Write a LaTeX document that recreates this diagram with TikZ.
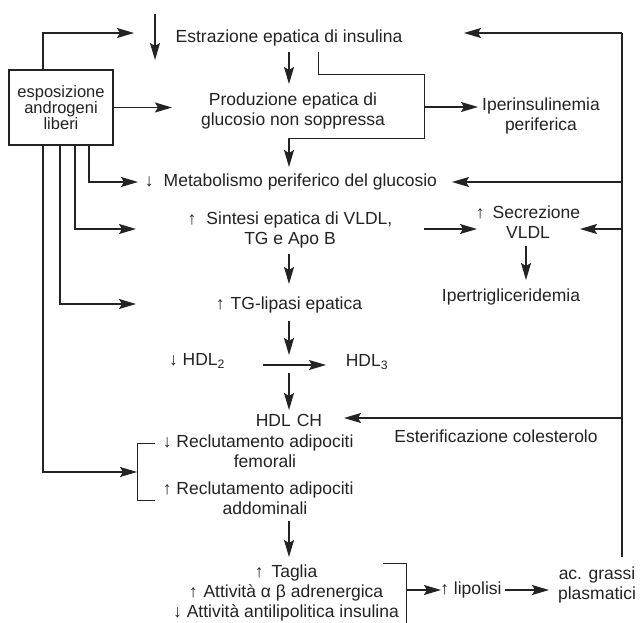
\documentclass[tikz,border=0pt]{standalone}
\usepackage{fontspec}
\setmainfont{Liberation Sans}
\usetikzlibrary{arrows.meta}
\definecolor{inkc}{RGB}{35,35,35}
\begin{document}
\begin{tikzpicture}[x=1pt,y=-1pt,
  ln/.style={draw=inkc, line width=1.4pt},
  thinln/.style={draw=inkc, line width=0.9pt},
  arr/.style={ln, -{Stealth[length=17pt,width=10pt,inset=3pt]}},
  txt/.style={font=\fontsize{17.5}{20}\selectfont, text=inkc, inner sep=0pt, align=center},
  boxtxt/.style={font=\fontsize{16.5}{14.5}\selectfont, text=inkc, align=center},
  ]
\useasboundingbox (0,0) rectangle (640,623);
\fill[white] (0,0) rectangle (640,623);

% source box
\node[boxtxt, draw=inkc, line width=1.3pt, minimum width=104pt, minimum height=75pt, inner sep=0pt] (box) at (61,107.5) {esposizione\\androgeni\\liberi};

% text nodes
\node[txt] (estr) at (289,38) {Estrazione epatica di insulina};
\node[txt] (prod) at (293,111) {Produzione epatica di\\glucosio non soppressa};
\node[txt] (iper) at (541,116) {Iperinsulinemia\\periferica};
\node[txt] (meta) at (291,182) {↓\hspace{10pt}Metabolismo periferico del glucosio};
\node[txt] (sint) at (290,230) {↑\hspace{10pt}Sintesi epatica di VLDL,\\TG e Apo B};
\node[txt] (secr) at (528,222) {↑\hspace{8pt}Secrezione\\VLDL};
\node[txt] (ipertg) at (511,297) {Ipertrigliceridemia};
\node[txt] (tgl) at (289,305) {↑\hspace{6pt}TG-lipasi epatica};
\node[txt] (hdl2) at (197,361) {↓ HDL\textsubscript{2}};
\node[txt] (hdl3) at (367,362) {HDL\textsubscript{3}};
\node[txt] (hdlch) at (289,420) {HDL\hspace{6pt}CH};
\node[txt] (ester) at (496,436) {Esterificazione colesterolo};
\node[txt] (femo) at (265,451) {\llap{↓ }Reclutamento adipociti\\femorali};
\node[txt] (addo) at (265,498) {\llap{↑ }Reclutamento adipociti\\addominali};
\node[txt] (tagl) at (286,593) {↑\hspace{8pt}Taglia\\↑\hspace{6pt}Attività α β adrenergica\\↓ Attività antilipolitica insulina};
\node[txt] (lipo) at (471,590) {↑ lipolisi};
\node[txt] (acg) at (597,585) {ac. grassi\\plasmatici};

% named free ends
\coordinate (tEstr) at (134,33);
\coordinate (tMeta) at (138,182);
\coordinate (tSint) at (136,229);
\coordinate (tTgl) at (136,304);
\coordinate (brk) at (137,472);
\coordinate (rTop) at (622,33);
\coordinate (rBot) at (622,557);

% arrows from the box
\draw[arr] ([xshift=-18pt]box.north) |- (tEstr);
\draw[arr] (box.east) -- (172,107.5);
\draw[arr] ([xshift=28pt]box.south) |- (tMeta);
\draw[arr] ([xshift=14pt]box.south) |- (tSint);
\draw[arr] ([xshift=-1pt]box.south) |- (tTgl);
\draw[arr] ([xshift=-18pt]box.south) |- (brk);

% decrease arrow before Estrazione
\draw[arr] (155,14) -- (155,60);

% central column
\draw[arr] (289,52) -- (289,84);
\draw[thinln] (318,52) |- (424,74) |- (289,138);
\draw[arr] (289,138) -- (289,167);
\draw[arr] (424,107) -- (478,107);

% right feedback line
\draw[ln] (rTop) -- (rBot);
\draw[arr] (rTop) -- (464,33);
\draw[arr] (622,182) -- (452,182);
\draw[arr] (622,229) -- (580,229);
\draw[arr] (622,418) -- (344,418);

% lipid branch
\draw[arr] (424,229) -- (477,229);
\draw[arr] (526,246) -- (526,280);
\draw[arr] (289,254) -- (289,284);
\draw[arr] (289,321) -- (289,355);
\draw[arr, line width=1.1pt] (263,365) -- (326,365);
\draw[arr] (289,373) -- (289,410);

% adipocyte bracket
\draw[thinln] (155,443) -- (137,443) -- (137,500) -- (155,500);
\draw[arr] (289,521) -- (289,557);

% bottom bracket and lipolysis
\draw[thinln] (383,563) -- (406,563) -- (406,623);
\draw[arr] (406,590) -- (441,590);
\draw[arr] (505,590) -- (549,590);
\end{tikzpicture}
\end{document}
